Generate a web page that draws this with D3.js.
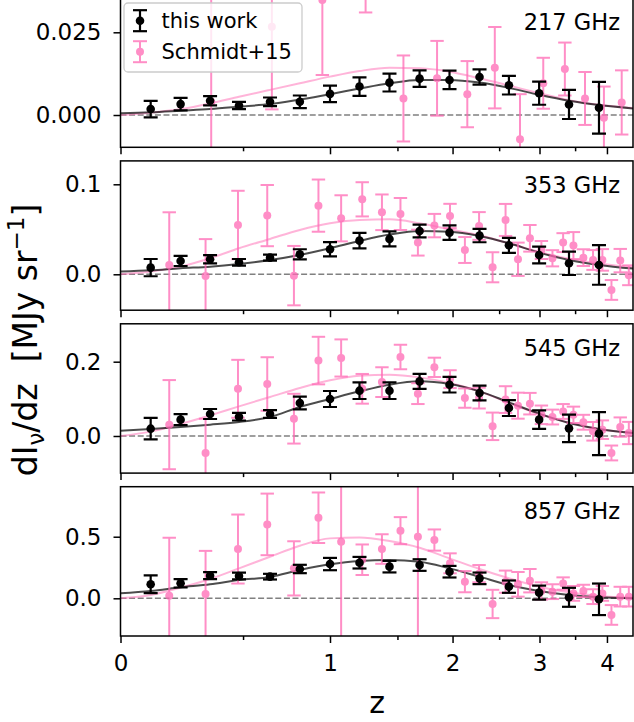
<!DOCTYPE html>
<html>
<head>
<meta charset="utf-8">
<script src="https://cdn.jsdelivr.net/npm/d3@7"></script>
<style>
  body { margin: 0; background: #fff; }
  svg { font-family: "DejaVu Sans", sans-serif; }
</style>
</head>
<body>
<div id="chart"></div>
<script>
// ---- data ----
const bands = ['217 GHz', '353 GHz', '545 GHz', '857 GHz'];

const xTicks = [0, 1, 2, 3, 4];
const xMinorTicks = [0.5, 1.5, 2.5, 3.5];
const xTickLabels = ['0', '1', '2', '3', '4'];

const yLimits = [[-0.00976, 0.03537], [-0.0399, 0.126], [-0.0999, 0.302], [-0.306, 0.906]];
const yTicks = [[0, 0.025], [0, 0.1], [0, 0.2], [0, 0.5]];
const yTickLabels = [['0.000', '0.025'], ['0.0', '0.1'], ['0.0', '0.2'], ['0.0', '0.5']];

// this work
const zThisWork = [0.105, 0.22, 0.345, 0.48, 0.64, 0.81, 1.0, 1.205, 1.435, 1.69, 1.97, 2.28, 2.615, 2.995, 3.41, 3.87];
const tw217 = [0.0018, 0.0033, 0.0043, 0.0029, 0.0040, 0.0040, 0.0064, 0.0086, 0.0098, 0.0110, 0.0106, 0.0115, 0.0090, 0.0066, 0.0032, 0.0022];
const tw217Err = [0.0025, 0.0019, 0.0014, 0.0011, 0.0013, 0.0019, 0.0025, 0.0028, 0.0027, 0.0025, 0.0028, 0.0023, 0.0028, 0.0035, 0.0044, 0.0078];
const tw353 = [0.0074, 0.0148, 0.0167, 0.0133, 0.0185, 0.0222, 0.0278, 0.0374, 0.0393, 0.0481, 0.0463, 0.0430, 0.0322, 0.0215, 0.0122, 0.0104];
const tw353Err = [0.0096, 0.0056, 0.0046, 0.0037, 0.0033, 0.0056, 0.0080, 0.0087, 0.0083, 0.0070, 0.0080, 0.0074, 0.0083, 0.0093, 0.0130, 0.0220];
const tw545 = [0.0197, 0.044, 0.0592, 0.052, 0.0592, 0.0888, 0.0996, 0.122, 0.122, 0.147, 0.138, 0.1157, 0.0753, 0.044, 0.0206, 0.0063];
const tw545Err = [0.029, 0.015, 0.0135, 0.0103, 0.0103, 0.017, 0.0215, 0.0224, 0.0224, 0.020, 0.021, 0.020, 0.0215, 0.025, 0.037, 0.058];
const tw857 = [0.1135, 0.1216, 0.1838, 0.181, 0.1757, 0.238, 0.278, 0.289, 0.257, 0.27, 0.216, 0.162, 0.0946, 0.046, 0.0081, -0.0081];
const tw857Err = [0.072, 0.034, 0.028, 0.027, 0.023, 0.034, 0.05, 0.047, 0.047, 0.047, 0.047, 0.047, 0.05, 0.057, 0.077, 0.128];

// Schmidt+15
const zS15_217 = [0.35, 0.65, 0.95, 1.25, 1.55, 1.85, 2.15, 2.45, 2.75, 3.05, 3.35, 3.65, 3.95, 4.25];
const s15_217 = [0.004, 0.0267, 0.0348, 0.046, 0.0050, 0.0111, 0.0063, 0.0143, -0.0073, 0.0096, 0.0139, 0.0050, -0.0008, 0.0038];
const s15_217Err = [0.06, 0.025, 0.0227, 0.015, 0.013, 0.0113, 0.010, 0.0123, 0.0136, 0.0077, 0.008, 0.008, 0.0094, 0.0097];

const zS15 = [0.175, 0.325, 0.475, 0.625, 0.775, 0.925, 1.075, 1.225, 1.375, 1.525, 1.675, 1.825, 1.975, 2.125, 2.275,
              2.425, 2.575, 2.725, 2.875, 3.025, 3.175, 3.325, 3.475, 3.625, 3.775, 3.925, 4.075, 4.225, 4.375];
const s15_353 = [0.0104, -0.0019, 0.0548, 0.0652, -0.0015, 0.0763, 0.0622, 0.0833, 0.0689, 0.067, 0.0352, 0.0541, 0.0648, 0.027, 0.0537,
                 0.0078, 0.0604, 0.0167, 0.04, 0.027, 0.0178, 0.0352, 0.0319, 0.0185, 0.0159, 0.016, -0.0174, 0.0152, -0.0011];
const s15_353Err = [0.0585, 0.041, 0.038, 0.034, 0.033, 0.029, 0.0256, 0.019, 0.0198, 0.0178, 0.0144, 0.013, 0.0135, 0.0144, 0.0154,
                    0.0167, 0.0178, 0.0185, 0.0148, 0.010, 0.009, 0.0105, 0.015, 0.0093, 0.011, 0.012, 0.011, 0.013, 0.011];
const s15_545 = [0.0305, -0.0457, 0.127, 0.14, 0.0466, 0.203, 0.21, 0.127, 0.145, 0.2126, 0.114, 0.1848, 0.153, 0.102, 0.102,
                 0.026, 0.098, 0.0816, 0.087, 0.057, 0.051, 0.066, 0.057, 0.037, 0.0126, 0.017, -0.0457, 0.024, 0.008];
const s15_545Err = [0.12, 0.092, 0.078, 0.072, 0.067, 0.064, 0.05, 0.04, 0.04, 0.033, 0.028, 0.026, 0.024, 0.026, 0.028,
                    0.037, 0.036, 0.035, 0.029, 0.025, 0.02, 0.02, 0.022, 0.02, 0.025, 0.025, 0.02, 0.026, 0.03];
const s15_857 = [0.0216, 0.035, 0.4, 0.6, 0.243, 0.654, 0.46, 0.313, 0.4, 0.549, 0.5, 0.473, 0.284, 0.135, 0.2,
                 -0.046, 0.135, 0.1135, 0.143, 0.06, 0.054, 0.12, 0.04, 0.06, 0.0135, 0.04, -0.135, 0.0135, 0.0135];
const s15_857Err = [0.47, 0.35, 0.28, 0.25, 0.22, 0.205, 1.5, 0.124, 0.12, 0.11, 1.5, 0.086, 0.081, 0.086, 0.07,
                    0.115, 0.09, 0.1, 0.095, 0.07, 0.06, 0.05, 0.06, 0.05, 0.06, 0.06, 0.08, 0.08, 0.08];

// model curves, sampled at these redshifts
const fitZ = [0, 0.105, 0.22, 0.345, 0.48, 0.64, 0.81, 1.0, 1.205, 1.435, 1.69, 1.97, 2.28, 2.615, 2.995, 3.41, 3.87, 4.45];
const fit217 = [0.0005, 0.0008, 0.0013, 0.0018, 0.0025, 0.0033, 0.0047, 0.0063, 0.0080, 0.0096, 0.0106, 0.0106, 0.0098, 0.0082, 0.0061, 0.0043, 0.0030, 0.0020];
const fitS15_217 = [0, 0.0007, 0.0018, 0.0035, 0.0055, 0.0076, 0.0096, 0.0116, 0.0133, 0.0143, 0.0141, 0.0131, 0.0111, 0.0089, 0.0066, 0.0045, 0.0031, 0.0021];
const fit353 = [0.003, 0.0044, 0.0067, 0.0085, 0.0115, 0.0159, 0.0215, 0.0289, 0.037, 0.0441, 0.0481, 0.0474, 0.0426, 0.0344, 0.0241, 0.0159, 0.0104, 0.0063];
const fitS15_353 = [0, 0.003, 0.0085, 0.0178, 0.0289, 0.0393, 0.0493, 0.0567, 0.0604, 0.0611, 0.0567, 0.05, 0.0433, 0.0344, 0.0248, 0.0174, 0.0119, 0.0078];
const fit545 = [0.0143, 0.0188, 0.0242, 0.0305, 0.0377, 0.0511, 0.078, 0.0996, 0.1202, 0.1381, 0.1471, 0.1399, 0.1202, 0.0906, 0.0601, 0.035, 0.0188, 0.0081];
const fitS15_545 = [0, 0.0117, 0.0323, 0.0556, 0.0798, 0.1049, 0.1291, 0.1498, 0.1623, 0.165, 0.1578, 0.1426, 0.1202, 0.0888, 0.0592, 0.0359, 0.0188, 0.0081];
const fit857 = [0.0405, 0.0595, 0.089, 0.1135, 0.1486, 0.173, 0.2297, 0.2757, 0.3027, 0.3108, 0.2973, 0.2432, 0.1757, 0.1081, 0.0595, 0.027, 0.0081, 0];
const fitS15_857 = [0, 0.027, 0.0865, 0.1568, 0.2432, 0.3378, 0.427, 0.4865, 0.4946, 0.4649, 0.4108, 0.3243, 0.2378, 0.1622, 0.0946, 0.0486, 0.0189, 0.0054];

// ---- layout ----
const W = 634, H = 722;
const left = 120.5, right = 633;
const panelTop = [-2, 160.9, 323.8, 486.7];
const panelH = 149.3;
const zMax = 4.45;
const pink = '#ff69b4';

const panels = [
  { tw: tw217, twErr: tw217Err, sz: zS15_217, s: s15_217, sErr: s15_217Err, fit: fit217, sfit: fitS15_217 },
  { tw: tw353, twErr: tw353Err, sz: zS15, s: s15_353, sErr: s15_353Err, fit: fit353, sfit: fitS15_353 },
  { tw: tw545, twErr: tw545Err, sz: zS15, s: s15_545, sErr: s15_545Err, fit: fit545, sfit: fitS15_545 },
  { tw: tw857, twErr: tw857Err, sz: zS15, s: s15_857, sErr: s15_857Err, fit: fit857, sfit: fitS15_857 }
];

const svg = d3.select('#chart').append('svg')
  .attr('width', W)
  .attr('height', H);

// x axis is linear in log(1+z)
const x = d3.scaleLog().domain([1, 1 + zMax]).range([left, right]);
const xz = z => x(1 + z);

function errorBars(parent, zs, vals, errs, y, opts) {
  const g = parent.append('g').attr('opacity', opts.opacity);
  const pts = zs.map((z, i) => ({ z: z, v: vals[i], e: errs[i] }));
  g.selectAll('line.bar').data(pts).enter().append('line')
    .attr('x1', d => xz(d.z)).attr('x2', d => xz(d.z))
    .attr('y1', d => y(d.v - d.e)).attr('y2', d => y(d.v + d.e))
    .attr('stroke', opts.color).attr('stroke-width', opts.lw);
  ['lo', 'hi'].forEach(side => {
    g.selectAll('line.cap' + side).data(pts).enter().append('line')
      .attr('x1', d => xz(d.z) - opts.cap).attr('x2', d => xz(d.z) + opts.cap)
      .attr('y1', d => y(side === 'lo' ? d.v - d.e : d.v + d.e))
      .attr('y2', d => y(side === 'lo' ? d.v - d.e : d.v + d.e))
      .attr('stroke', opts.color).attr('stroke-width', opts.lw);
  });
  g.selectAll('circle').data(pts).enter().append('circle')
    .attr('cx', d => xz(d.z)).attr('cy', d => y(d.v)).attr('r', opts.r)
    .attr('fill', opts.color);
}

panels.forEach((p, i) => {
  const top = panelTop[i], bottom = top + panelH;
  const y = d3.scaleLinear().domain(yLimits[i]).range([bottom, top]);
  const g = svg.append('g');

  g.append('clipPath').attr('id', 'clip' + i)
    .append('rect').attr('x', left).attr('y', top).attr('width', right - left).attr('height', panelH);
  const plot = g.append('g').attr('clip-path', `url(#clip${i})`);

  // zero line
  plot.append('line')
    .attr('x1', left).attr('x2', right)
    .attr('y1', y(0)).attr('y2', y(0))
    .attr('stroke', '#808080').attr('stroke-width', 1.5)
    .attr('stroke-dasharray', '6,2.6');

  const line = d3.line()
    .x(d => xz(d[0]))
    .y(d => y(d[1]))
    .curve(d3.curveMonotoneX);

  plot.append('path')
    .datum(fitZ.map((z, j) => [z, p.sfit[j]]))
    .attr('d', line).attr('fill', 'none')
    .attr('stroke', pink).attr('stroke-opacity', 0.5).attr('stroke-width', 2);

  plot.append('path')
    .datum(fitZ.map((z, j) => [z, p.fit[j]]))
    .attr('d', line).attr('fill', 'none')
    .attr('stroke', '#000').attr('stroke-opacity', 0.7).attr('stroke-width', 2);

  errorBars(plot, p.sz, p.s, p.sErr, y, { color: pink, opacity: 0.75, lw: 2, cap: 6.7, r: 4 });
  errorBars(plot, zThisWork, p.tw, p.twErr, y, { color: '#000', opacity: 1, lw: 2.2, cap: 7, r: 4.3 });

  // x ticks on every panel, labels only at the bottom
  const xAxis = d3.axisBottom(x)
    .tickValues(xTicks.map(v => 1 + v))
    .tickSize(7).tickPadding(12)
    .tickFormat((d, k) => i === 3 ? xTickLabels[k] : '');
  const xa = g.append('g').attr('transform', `translate(0,${bottom})`).call(xAxis);

  const xMinor = d3.axisBottom(x)
    .tickValues(xMinorTicks.map(v => 1 + v))
    .tickSize(4).tickFormat('');
  const xm = g.append('g').attr('transform', `translate(0,${bottom})`).call(xMinor);

  const yAxis = d3.axisLeft(y)
    .tickValues(yTicks[i])
    .tickSize(7).tickPadding(12)
    .tickFormat((d, k) => yTickLabels[i][k]);
  const ya = g.append('g').attr('transform', `translate(${left},0)`).call(yAxis);

  [xa, xm, ya].forEach(a => {
    a.select('.domain').remove();
    a.selectAll('.tick line').attr('stroke', '#000').attr('stroke-width', 1.5);
    a.selectAll('.tick text')
      .attr('fill', '#000')
      .style('font-family', '"DejaVu Sans", sans-serif')
      .style('font-size', '23px');
  });

  // frame
  g.append('rect')
    .attr('x', left).attr('y', top)
    .attr('width', right - left).attr('height', panelH)
    .attr('fill', 'none').attr('stroke', '#000').attr('stroke-width', 1.5);

  g.append('text')
    .attr('x', 620).attr('y', top + 32)
    .attr('text-anchor', 'end')
    .style('font-size', '22.5px')
    .text(bands[i]);
});

// legend in the top panel
const legend = svg.append('g');
legend.append('rect')
  .attr('x', 124).attr('y', 3).attr('width', 178).attr('height', 69).attr('rx', 4)
  .attr('fill', '#fff').attr('fill-opacity', 0.8)
  .attr('stroke', '#cccccc').attr('stroke-width', 1.3);

const legendItems = [
  { label: 'this work', color: '#000', opacity: 1, cy: 20.7, half: 10.5, r: 4.3, lw: 2.2 },
  { label: 'Schmidt+15', color: pink, opacity: 0.75, cy: 51.7, half: 10.5, r: 4, lw: 2 }
];
legendItems.forEach(it => {
  const lg = legend.append('g').attr('opacity', it.opacity);
  lg.append('line').attr('x1', 140).attr('x2', 140)
    .attr('y1', it.cy - it.half).attr('y2', it.cy + it.half)
    .attr('stroke', it.color).attr('stroke-width', it.lw);
  [-1, 1].forEach(s => {
    lg.append('line').attr('x1', 133).attr('x2', 147)
      .attr('y1', it.cy + s * it.half).attr('y2', it.cy + s * it.half)
      .attr('stroke', it.color).attr('stroke-width', it.lw);
  });
  lg.append('circle').attr('cx', 140).attr('cy', it.cy).attr('r', it.r).attr('fill', it.color);
  legend.append('text')
    .attr('x', 161.5).attr('y', it.cy + 7.5)
    .style('font-size', '21px')
    .text(it.label);
});

// axis titles
const ylab = svg.append('text')
  .attr('transform', 'translate(36.5,340) rotate(-90)')
  .attr('text-anchor', 'middle')
  .style('font-size', '33px')
  .style('white-space', 'pre');
ylab.append('tspan').text('dI');
ylab.append('tspan').attr('dy', 7).style('font-size', '23px').text('ν');
ylab.append('tspan').attr('dy', -7).text('/dz  [MJy sr');
ylab.append('tspan').attr('dy', -13).style('font-size', '23px').text('−1');
ylab.append('tspan').attr('dy', 13).text(']');

svg.append('text')
  .attr('x', 377).attr('y', 713)
  .attr('text-anchor', 'middle')
  .style('font-size', '30px')
  .text('z');
</script>
</body>
</html>
